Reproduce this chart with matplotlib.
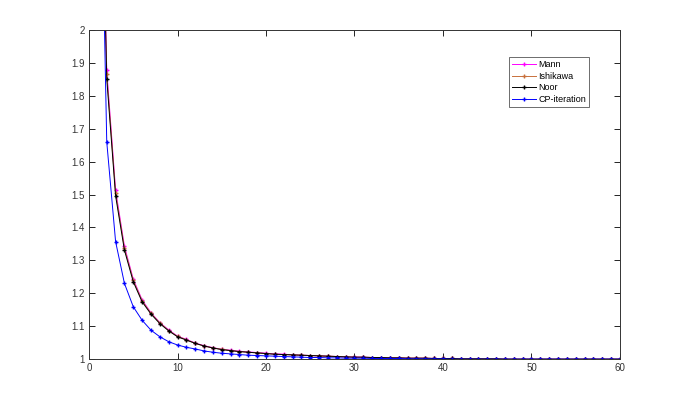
import matplotlib
matplotlib.use("Agg")
import matplotlib.pyplot as plt
import numpy as np

n = list(range(1, 61))

noor = [3.0, 1.852, 1.496, 1.331, 1.235, 1.174, 1.137, 1.108, 1.086, 1.068,
        1.058, 1.048, 1.040, 1.034, 1.029, 1.026, 1.023, 1.021, 1.019, 1.017,
        1.015, 1.014, 1.013, 1.012, 1.011, 1.010, 1.009, 1.008, 1.007, 1.006,
        1.006, 1.005, 1.005, 1.004, 1.004, 1.003, 1.003, 1.003, 1.002, 1.002,
        1.002, 1.001, 1.001, 1.001, 1.001, 1.001, 1.000, 1.000, 1.000, 1.000,
        1.000, 1.000, 1.000, 1.000, 1.000, 1.000, 1.000, 1.000, 1.000, 1.000]

mann = [3.0, 1.878, 1.514, 1.343, 1.243, 1.180, 1.141, 1.111, 1.089, 1.070,
        1.060, 1.049, 1.041, 1.035, 1.030, 1.027, 1.024, 1.022, 1.020, 1.018,
        1.016, 1.015, 1.013, 1.012, 1.011, 1.010, 1.009, 1.008, 1.007, 1.007,
        1.006, 1.005, 1.005, 1.004, 1.004, 1.003, 1.003, 1.003, 1.002, 1.002,
        1.002, 1.001, 1.001, 1.001, 1.001, 1.001, 1.000, 1.000, 1.000, 1.000,
        1.000, 1.000, 1.000, 1.000, 1.000, 1.000, 1.000, 1.000, 1.000, 1.000]

ishikawa = [3.0, 1.865, 1.505, 1.337, 1.239, 1.177, 1.139, 1.110, 1.087, 1.069,
            1.059, 1.048, 1.040, 1.034, 1.030, 1.026, 1.023, 1.021, 1.019, 1.017,
            1.015, 1.014, 1.013, 1.012, 1.011, 1.010, 1.009, 1.008, 1.007, 1.006,
            1.006, 1.005, 1.005, 1.004, 1.004, 1.003, 1.003, 1.003, 1.002, 1.002,
            1.002, 1.001, 1.001, 1.001, 1.001, 1.001, 1.000, 1.000, 1.000, 1.000,
            1.000, 1.000, 1.000, 1.000, 1.000, 1.000, 1.000, 1.000, 1.000, 1.000]

cp = [3.0, 1.660, 1.357, 1.230, 1.159, 1.118, 1.088, 1.068, 1.053, 1.043,
      1.036, 1.031, 1.025, 1.021, 1.018, 1.016, 1.014, 1.012, 1.011, 1.010,
      1.009, 1.008, 1.007, 1.006, 1.005, 1.005, 1.004, 1.004, 1.003, 1.003,
      1.003, 1.002, 1.002, 1.002, 1.002, 1.001, 1.001, 1.001, 1.001, 1.001,
      1.000, 1.000, 1.000, 1.000, 1.000, 1.000, 1.000, 1.000, 1.000, 1.000,
      1.000, 1.000, 1.000, 1.000, 1.000, 1.000, 1.000, 1.000, 1.000, 1.000]

series_names = ["Mann", "Ishikawa", "Noor", "CP-iteration"]
colors = ["#ff00ff", "#c8703c", "#000000", "#0000ff"]

x_ticks = [0, 10, 20, 30, 40, 50, 60]
y_ticks = [1, 1.1, 1.2, 1.3, 1.4, 1.5, 1.6, 1.7, 1.8, 1.9, 2]
y_ticklabels = ["1", "1.1", "1.2", "1.3", "1.4", "1.5", "1.6", "1.7", "1.8", "1.9", "2"]

plt.rcParams['font.family'] = ['Liberation Sans', 'DejaVu Sans']

fig = plt.figure(figsize=(6.85, 4.04), dpi=100)
ax = fig.add_axes([0.13, 0.111, 0.775, 0.815])

for name, vals, c in zip(series_names, [mann, ishikawa, noor, cp], colors):
    ax.plot(n, vals, color=c, marker='+', markersize=3, markeredgewidth=1.0,
            linewidth=0.7, label=name)

ax.set_xlim(0, 60)
ax.set_ylim(1, 2)
ax.set_xticks(x_ticks)
ax.set_xticklabels([str(t) for t in x_ticks])
ax.set_yticks(y_ticks)
ax.set_yticklabels(y_ticklabels)
ax.tick_params(direction='in', length=4, width=0.6, top=True, right=True,
               labelsize=7, labelcolor='#333333', pad=3)
for s in ax.spines.values():
    s.set_linewidth(0.7)
    s.set_color('#333333')

leg = ax.legend(loc='upper left', bbox_to_anchor=(0.791, 0.918), fontsize=6.5,
                fancybox=False, framealpha=1, edgecolor='#555555',
                handlelength=2.6, borderpad=0.35, labelspacing=0.3,
                handletextpad=0.3, borderaxespad=0)
leg.get_frame().set_linewidth(0.6)

fig.savefig("out.png", dpi=100)
